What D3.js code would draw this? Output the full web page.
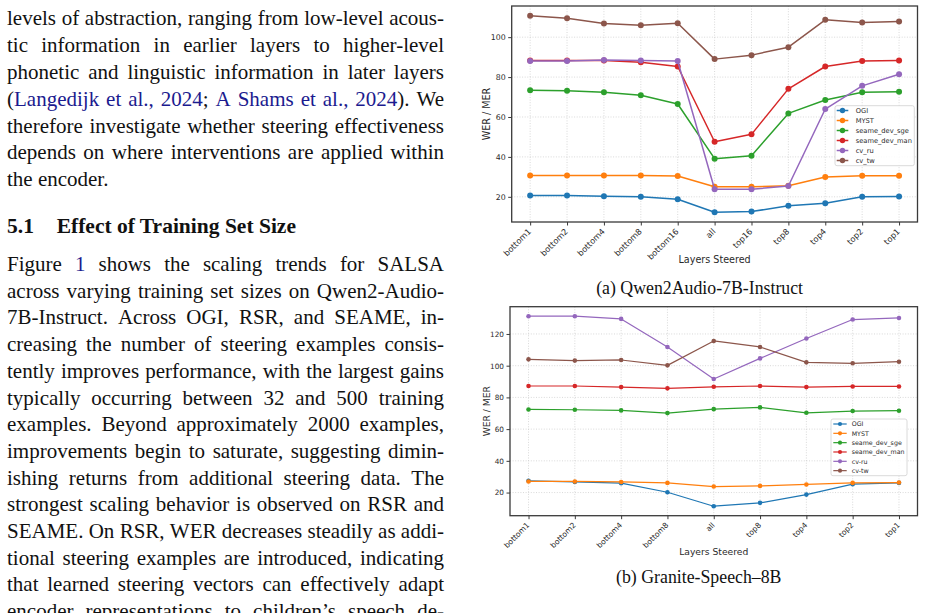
<!DOCTYPE html>
<html>
<head>
<meta charset="utf-8">
<script src="https://cdn.jsdelivr.net/npm/d3@7"></script>
<style>
  body { margin: 0; background: #fff; }
  svg { display: block; }
</style>
</head>
<body>
<svg id="page" width="925" height="613"></svg>
<script>
/* ---- Daten: (a) Qwen2Audio-7B-Instruct ---- */
var layersA = ["bottom1", "bottom2", "bottom4", "bottom8", "bottom16", "all", "top16", "top8", "top4", "top2", "top1"];
var namesA = ["OGI", "MYST", "seame_dev_sge", "seame_dev_man", "cv_ru", "cv_tw"];
var ogiA   = [20.7, 20.7, 20.3, 20.0, 18.8, 12.3, 12.6, 15.5, 16.8, 20.0, 20.2];
var mystA  = [30.7, 30.7, 30.7, 30.7, 30.4, 25.0, 25.0, 25.5, 29.9, 30.5, 30.5];
var sgeA   = [73.4, 73.1, 72.4, 70.9, 66.5, 39.1, 40.6, 61.8, 68.5, 72.4, 72.7];
var manA   = [88.3, 88.3, 88.3, 87.4, 85.3, 47.6, 51.3, 74.1, 85.3, 88.1, 88.3];
var cvRuA  = [88.1, 88.1, 88.6, 88.3, 88.1, 23.8, 23.8, 25.4, 64.0, 75.6, 81.4];
var cvTwA  = [110.7, 109.5, 106.9, 106.0, 107.0, 89.0, 91.0, 95.0, 108.7, 107.4, 107.9];
var yTicksA = [20, 40, 60, 80, 100];

/* ---- Daten: (b) Granite-Speech-8B ---- */
var layersB = ["bottom1", "bottom2", "bottom4", "bottom8", "all", "top8", "top4", "top2", "top1"];
var namesB = ["OGI", "MYST", "seame_dev_sge", "seame_dev_man", "cv-ru", "cv-tw"];
var ogiB   = [27.4, 26.7, 25.9, 20.2, 11.4, 13.5, 18.7, 25.3, 26.1];
var mystB  = [27.0, 27.0, 26.7, 26.1, 23.8, 24.2, 25.1, 26.1, 26.3];
var sgeB   = [72.4, 72.2, 71.8, 70.1, 72.6, 73.7, 70.3, 71.4, 71.6];
var manB   = [87.2, 87.2, 86.5, 85.7, 86.7, 87.2, 86.5, 86.9, 86.9];
var cvRuB  = [131.2, 131.2, 129.5, 111.8, 91.6, 104.6, 117.1, 129.1, 130.1];
var cvTwB  = [104.0, 103.2, 103.6, 100.2, 115.6, 111.8, 102.1, 101.5, 102.5];
var yTicksB = [20, 40, 60, 80, 100, 120];

var seriesColors = ["#1f77b4", "#ff7f0e", "#2ca02c", "#d62728", "#9467bd", "#8c564b"];

/* ---- Text der Seite ---- */
var para1 = [
  "levels of abstraction, ranging from low-level acous-",
  "tic information in earlier layers to higher-level",
  "phonetic and linguistic information in later layers",
  "({Langedijk} {et} {al.,} {2024}; {A} {Shams} {et} {al.,} {2024}). We",
  "therefore investigate whether steering effectiveness",
  "depends on where interventions are applied within",
  "the encoder."
];
var para2 = [
  "Figure {1} shows the scaling trends for SALSA",
  "across varying training set sizes on Qwen2-Audio-",
  "7B-Instruct. Across OGI, RSR, and SEAME, in-",
  "creasing the number of steering examples consis-",
  "tently improves performance, with the largest gains",
  "typically occurring between 32 and 500 training",
  "examples. Beyond approximately 2000 examples,",
  "improvements begin to saturate, suggesting dimin-",
  "ishing returns from additional steering data. The",
  "strongest scaling behavior is observed on RSR and",
  "SEAME. On RSR, WER decreases steadily as addi-",
  "tional steering examples are introduced, indicating",
  "that learned steering vectors can effectively adapt",
  "encoder representations to children\u2019s speech de-"
];

var page = d3.select("#page");
var serif = "'Liberation Serif', 'Times New Roman', serif";
var sans = "'DejaVu Sans', sans-serif";
var linkColor = "#1b1b8f";

/* Blocksatz: jede Zeile wortweise setzen */
function drawLines(lines, x0, x1, y0, lh, justifyLast) {
  var g = page.append("g").attr("font-family", serif).attr("font-size", 21).attr("fill", "#111");
  lines.forEach(function(line, li) {
    var words = line.split(" ").filter(function(w) { return w.length; });
    var nodes = words.map(function(w) {
      var t = g.append("text").attr("y", y0 + li * lh);
      w.split(/(\{[^}]*\})/).forEach(function(part) {
        if (!part) return;
        var blue = part.charAt(0) == "{";
        t.append("tspan").attr("fill", blue ? linkColor : null).text(blue ? part.slice(1, -1) : part);
      });
      return t;
    });
    var widths = nodes.map(function(t) { return t.node().getComputedTextLength(); });
    var total = d3.sum(widths);
    var justify = (li < lines.length - 1) || justifyLast;
    var gap = justify && words.length > 1 ? (x1 - x0 - total) / (words.length - 1) : 5.25;
    var x = x0;
    nodes.forEach(function(t, i) { t.attr("x", x); x += widths[i] + gap; });
  });
}

drawLines(para1, 7, 444, 25.3, 26.8, false);

var head = page.append("text").attr("y", 233).attr("font-family", serif).attr("font-size", 21.5).attr("font-weight", "bold").attr("fill", "#111");
head.append("tspan").attr("x", 7).text("5.1");
head.append("tspan").attr("x", 56.7).text("Effect of Training Set Size");

drawLines(para2, 7, 444, 271, 26.7, true);

/* Diagramm zeichnen */
function drawChart(c) {
  var g = page.append("g");
  var n = c.cats.length;
  var x = d3.scalePoint().domain(c.cats).range([c.left, c.right]).padding(0.05 * (n - 1));
  var all = d3.merge(c.series);
  var ext = d3.extent(all), pad = (ext[1] - ext[0]) * 0.05;
  var y = d3.scaleLinear().domain([ext[0] - pad, ext[1] + pad]).range([c.bottom, c.top]);

  /* Gitter */
  var grid = g.append("g").attr("stroke", "#c8c8c8").attr("stroke-width", 0.7).attr("stroke-dasharray", "1,1.6");
  grid.selectAll(".gx").data(c.cats).enter().append("line")
    .attr("x1", function(d) { return x(d); }).attr("x2", function(d) { return x(d); })
    .attr("y1", c.top).attr("y2", c.bottom);
  grid.selectAll(".gy").data(c.yTicks).enter().append("line")
    .attr("x1", c.left).attr("x2", c.right)
    .attr("y1", function(d) { return y(d); }).attr("y2", function(d) { return y(d); });

  /* Linien und Marker */
  var line = d3.line().x(function(d, i) { return x(c.cats[i]); }).y(function(d) { return y(d); });
  c.series.forEach(function(s, k) {
    g.append("path").datum(s).attr("d", line).attr("fill", "none")
      .attr("stroke", seriesColors[k]).attr("stroke-width", c.lw).attr("stroke-linejoin", "round");
    g.selectAll(".m" + k).data(s).enter().append("circle")
      .attr("cx", function(d, i) { return x(c.cats[i]); }).attr("cy", function(d) { return y(d); })
      .attr("r", c.r).attr("fill", seriesColors[k]);
  });

  /* Rahmen */
  g.append("rect").attr("x", c.left).attr("y", c.top).attr("width", c.right - c.left).attr("height", c.bottom - c.top)
    .attr("fill", "none").attr("stroke", "#3a3a3a").attr("stroke-width", 1.3);

  /* Achsen */
  var ya = g.append("g").attr("transform", "translate(" + c.left + ",0)")
    .call(d3.axisLeft(y).tickValues(c.yTicks).tickSize(3.5).tickPadding(2.5));
  ya.select(".domain").remove();
  ya.selectAll("text").attr("font-family", sans).attr("font-size", c.tickFont).attr("fill", "#2a2a2a");
  ya.selectAll("line").attr("stroke", "#3a3a3a");

  var xa = g.append("g").attr("transform", "translate(0," + c.bottom + ")")
    .call(d3.axisBottom(x).tickSize(3.5));
  xa.select(".domain").remove();
  xa.selectAll("line").attr("stroke", "#3a3a3a");
  xa.selectAll("text").remove();
  g.selectAll(".xl").data(c.cats).enter().append("text")
    .attr("transform", function(d) { return "translate(" + (x(d) + 1.5) + "," + (c.bottom + 10) + ") rotate(-45)"; })
    .attr("text-anchor", "end").attr("font-family", sans).attr("font-size", c.xTickFont).attr("fill", "#2a2a2a")
    .text(function(d) { return d; });

  /* Achsentitel */
  g.append("text").attr("x", (c.left + c.right) / 2).attr("y", c.xLabelY).attr("text-anchor", "middle")
    .attr("font-family", sans).attr("font-size", c.labelFont).attr("fill", "#2a2a2a").text("Layers Steered");
  g.append("text").attr("transform", "translate(" + c.yLabelX + "," + ((c.top + c.bottom) / 2) + ") rotate(-90)")
    .attr("text-anchor", "middle").attr("font-family", sans).attr("font-size", c.labelFont).attr("fill", "#2a2a2a")
    .text("WER / MER");

  /* Legende */
  var L = c.legend;
  var lg = g.append("g");
  lg.append("rect").attr("x", L.x0).attr("y", L.y0).attr("width", L.x1 - L.x0).attr("height", L.y1 - L.y0)
    .attr("rx", 2).attr("fill", "#fff").attr("fill-opacity", 0.85).attr("stroke", "#d0d0d0").attr("stroke-width", 0.8);
  c.names.forEach(function(name, k) {
    var yy = L.row0 + k * L.dy;
    lg.append("line").attr("x1", L.h0).attr("x2", L.h1).attr("y1", yy).attr("y2", yy)
      .attr("stroke", seriesColors[k]).attr("stroke-width", c.lw);
    lg.append("circle").attr("cx", (L.h0 + L.h1) / 2).attr("cy", yy).attr("r", c.r * 0.9).attr("fill", seriesColors[k]);
    lg.append("text").attr("x", L.tx).attr("y", yy).attr("dy", "0.35em").attr("font-family", sans)
      .attr("font-size", L.font).attr("fill", "#2a2a2a").text(name);
  });

  /* Unterschrift */
  page.append("text").attr("x", (c.left + c.right) / 2 - 15).attr("y", c.captionY).attr("text-anchor", "middle")
    .attr("font-family", serif).attr("font-size", 17.8).attr("fill", "#111").text(c.caption);
}

drawChart({
  left: 511.7, right: 917.5, top: 6, bottom: 222,
  cats: layersA, names: namesA, yTicks: yTicksA,
  series: [ogiA, mystA, sgeA, manA, cvRuA, cvTwA],
  lw: 1.5, r: 3, tickFont: 7.8, xTickFont: 8.2, labelFont: 9.6, xLabelY: 263, yLabelX: 490,
  legend: { x0: 835, x1: 914.3, y0: 105.7, y1: 165.7, row0: 110.5, dy: 10, h0: 836.7, h1: 848.3, tx: 855.7, font: 6.7 },
  caption: "(a) Qwen2Audio-7B-Instruct", captionY: 294
});

drawChart({
  left: 510, right: 917.5, top: 306.7, bottom: 515.7,
  cats: layersB, names: namesB, yTicks: yTicksB,
  series: [ogiB, mystB, sgeB, manB, cvRuB, cvTwB],
  lw: 1.2, r: 2.3, tickFont: 7.3, xTickFont: 7.6, labelFont: 9.2, xLabelY: 555, yLabelX: 489.5,
  legend: { x0: 831, x1: 907, y0: 419, y1: 475.7, row0: 424, dy: 9.33, h0: 833.3, h1: 846.7, tx: 851.7, font: 6.3 },
  caption: "(b) Granite-Speech\u20138B", captionY: 583
});
</script>
</body>
</html>
